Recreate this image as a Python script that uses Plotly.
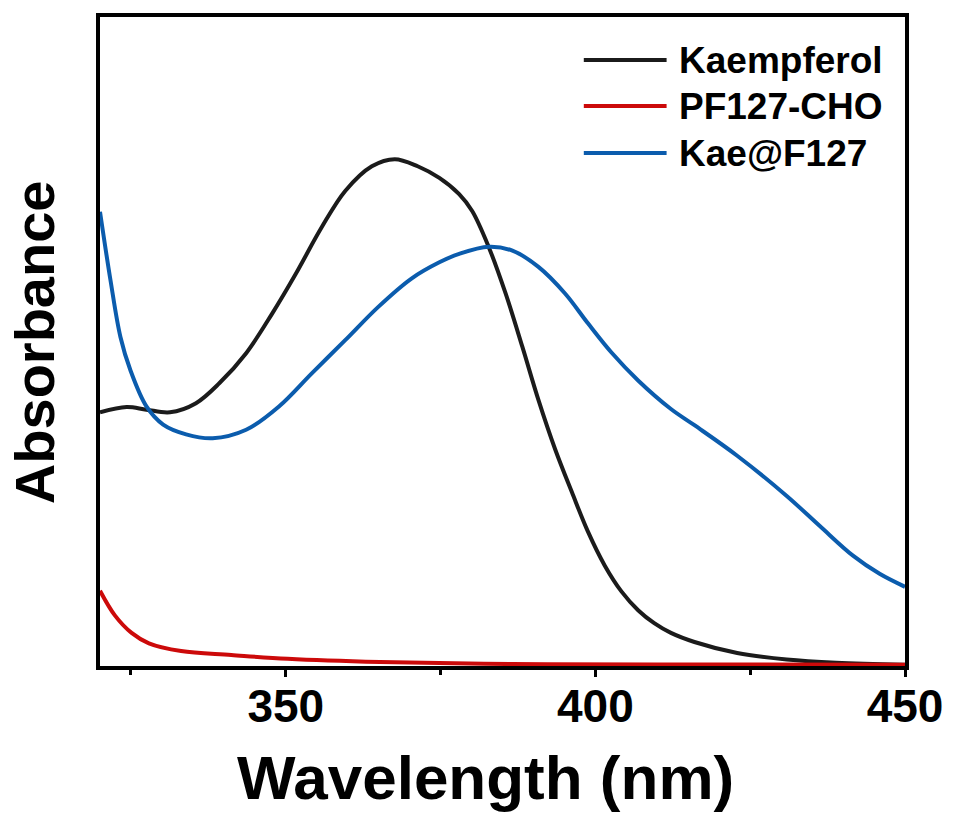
import plotly.graph_objects as go

# Kaempferol (black)
kae_wl = [320.0, 324.3, 327.5, 331.3, 335.5, 339.3, 343.6, 347.8, 351.6, 355.8, 359.6, 363.9,
          367.6, 371.3, 374.8, 378.0, 380.1, 382.8, 385.5, 388.2, 390.8, 393.5, 396.2, 398.8,
          401.5, 404.2, 406.9, 409.5, 412.2, 416.0, 422.9, 430.9, 438.9, 450.0]
kae_abs = [0.391, 0.399, 0.395, 0.391, 0.405, 0.436, 0.482, 0.543, 0.604, 0.676, 0.732, 0.770,
           0.781, 0.770, 0.752, 0.727, 0.701, 0.645, 0.574, 0.492, 0.410, 0.334, 0.268, 0.207,
           0.155, 0.115, 0.086, 0.066, 0.051, 0.037, 0.020, 0.010, 0.005, 0.002]

# PF127-CHO (red)
pf_wl = [320.0, 322.4, 325.1, 327.9, 333.1, 341.2, 350.3, 365.2, 386.5, 410.0, 450.0]
pf_abs = [0.116, 0.078, 0.051, 0.035, 0.023, 0.017, 0.011, 0.006, 0.003, 0.0025, 0.002]

# Kae@F127 (blue)
kf_wl = [320.0, 321.7, 323.3, 324.9, 327.5, 330.2, 333.9, 338.2, 343.6, 348.9, 354.2, 359.6,
         364.9, 370.3, 374.8, 378.0, 382.8, 386.6, 390.8, 395.1, 398.8, 402.6, 406.9, 412.2,
         416.0, 422.9, 430.9, 436.2, 441.6, 445.9, 450.0]
kf_abs = [0.700, 0.594, 0.507, 0.456, 0.400, 0.372, 0.357, 0.351, 0.364, 0.400, 0.451, 0.502,
          0.553, 0.597, 0.622, 0.635, 0.646, 0.640, 0.615, 0.574, 0.528, 0.483, 0.440, 0.396,
          0.371, 0.324, 0.262, 0.216, 0.170, 0.142, 0.122]

series_names = ["Kaempferol", "PF127-CHO", "Kae@F127"]
colors = ["#1b1b1b", "#cc0a0a", "#0b5cad"]

x_ticks = [350, 400, 450]
x_minor = [325, 375, 425]

fig = go.Figure()
for name, wl, ab, c in zip(series_names, [kae_wl, pf_wl, kf_wl], [kae_abs, pf_abs, kf_abs], colors):
    fig.add_trace(go.Scatter(x=wl, y=ab, name=name, mode="lines",
                             line=dict(color=c, width=4, shape="spline", smoothing=1.0),
                             showlegend=False))

W, H = 955, 821
L, R, T, B = 100, 48, 17, 155
pw, ph = W - L - R, H - T - B

def px_x(p):
    return (p - L) / pw

def px_y(p):
    return (H - B - p) / ph

fig.update_layout(
    width=W, height=H,
    margin=dict(l=L, r=R, t=T, b=B),
    paper_bgcolor="white", plot_bgcolor="white",
    font=dict(family="Liberation Sans, Arial, sans-serif", color="black"),
    xaxis=dict(range=[320, 450], tickvals=x_ticks, ticks="outside", ticklen=7, tickwidth=3,
               tickcolor="black", showline=True, linewidth=3.5, linecolor="black", mirror=True,
               showgrid=False, zeroline=False, ticklabelstandoff=-10,
               tickfont=dict(size=46, family="Liberation Sans, Arial, sans-serif", weight="bold"),
               minor=dict(tickvals=x_minor, ticks="outside", ticklen=5, tickwidth=3, tickcolor="black")),
    yaxis=dict(range=[0, 1], showticklabels=False, ticks="", showline=True, linewidth=3.5,
               linecolor="black", mirror=True, showgrid=False, zeroline=False),
)

annotations = [
    dict(text="<b>Wavelength (nm)</b>", xref="paper", yref="paper", x=px_x(486), y=px_y(777),
         xanchor="center", yanchor="middle", showarrow=False, font=dict(size=62)),
    dict(text="<b>Absorbance</b>", xref="paper", yref="paper", x=px_x(34), y=px_y(342),
         xanchor="center", yanchor="middle", showarrow=False, textangle=-90, font=dict(size=56)),
]
shapes = []
leg_rows = [60, 106, 153]
for name, c, yy in zip(series_names, colors, leg_rows):
    shapes.append(dict(type="line", xref="paper", yref="paper", x0=px_x(585), x1=px_x(668),
                       y0=px_y(yy), y1=px_y(yy), line=dict(color=c, width=4)))
    annotations.append(dict(text="<b>%s</b>" % name, xref="paper", yref="paper", x=px_x(678), y=px_y(yy),
                            xanchor="left", yanchor="middle", showarrow=False, font=dict(size=37)))
fig.update_layout(annotations=annotations, shapes=shapes)

fig.write_html("out.html", config={"displayModeBar": False},
               post_script="document.body.style.margin='0px';")
